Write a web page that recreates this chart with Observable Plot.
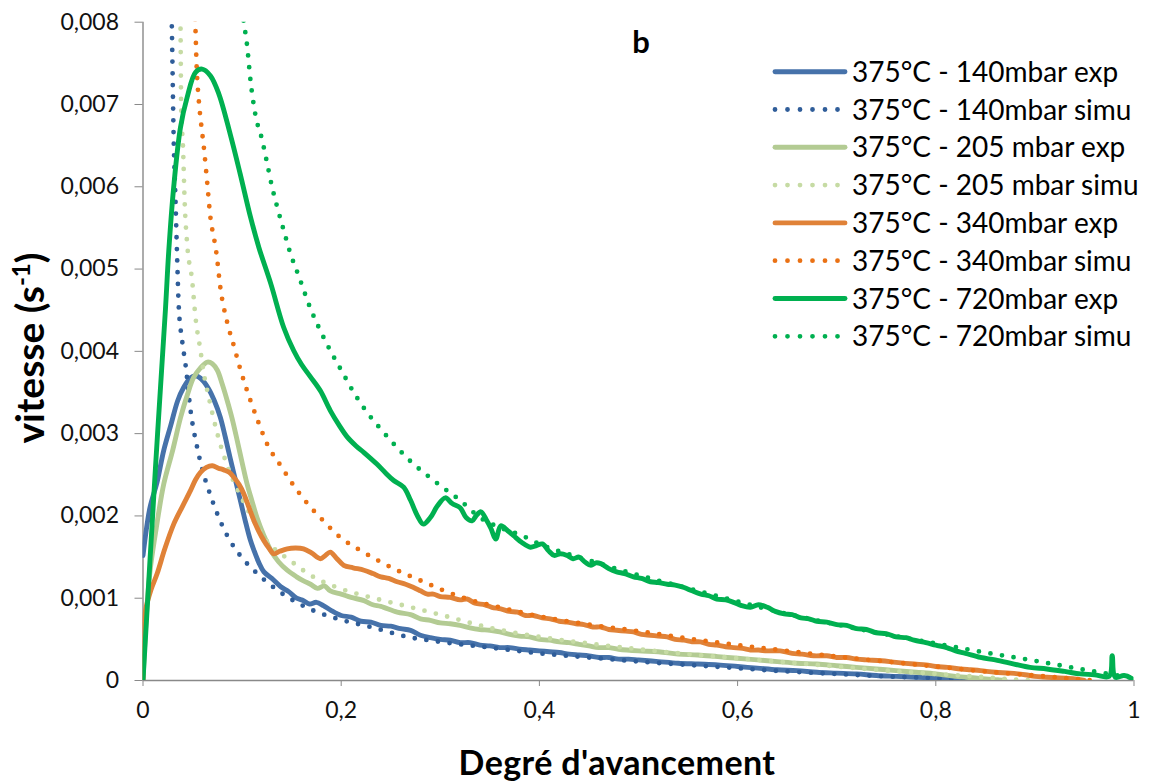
<!DOCTYPE html>
<html><head><meta charset="utf-8">
<script src="https://cdn.jsdelivr.net/npm/d3@7"></script>
<script src="https://cdn.jsdelivr.net/npm/@observablehq/plot@0.6"></script>
<style>body{margin:0;background:#fff;} svg{display:block;}</style>
</head><body><div id="chart"></div>
<script>
// ---- data (x = degré d'avancement, y = vitesse s^-1) ----
const seriesNames = ["375°C - 140mbar exp","375°C - 140mbar simu","375°C - 205 mbar exp","375°C - 205 mbar simu","375°C - 340mbar exp","375°C - 340mbar simu","375°C - 720mbar exp","375°C - 720mbar simu"];
const seriesColors = ["#4672aa","#2f5d99","#b3cb93","#c6dba4","#e08238","#ea7114","#00b050","#00b050"];
const seriesDotted = [false,true,false,true,false,true,false,true];

const exp140 = [[0,0.00152],[0.007,0.0021],[0.014,0.0024],[0.021,0.0028],[0.028,0.0031],[0.035,0.0034],[0.041,0.00356],[0.048,0.00368],[0.054,0.0037],[0.06,0.00365],[0.066,0.00355],[0.072,0.0034],[0.078,0.0032],[0.083,0.00296],[0.088,0.0027],[0.093,0.00245],[0.098,0.0022],[0.103,0.00195],[0.108,0.00172],[0.112,0.00158],[0.117,0.00143],[0.122,0.00132],[0.13,0.00124],[0.139,0.00114],[0.147,0.00108],[0.155,0.001],[0.162,0.00097],[0.168,0.00093],[0.175,0.00095],[0.182,0.00091],[0.19,0.00085],[0.2,0.00079],[0.21,0.00077],[0.22,0.00072],[0.23,0.00071],[0.24,0.00067],[0.25,0.00066],[0.26,0.00063],[0.27,0.00061],[0.28,0.00055],[0.29,0.00052],[0.3,0.0005],[0.31,0.00049],[0.32,0.00046],[0.33,0.00046],[0.34,0.00043],[0.35,0.00042],[0.36,0.0004],[0.37,0.0004],[0.38,0.00038],[0.39,0.00037],[0.4,0.00036],[0.41,0.00035],[0.42,0.00034],[0.43,0.00032],[0.44,0.00031],[0.45,0.0003],[0.46,0.00028],[0.47,0.00028],[0.48,0.00026],[0.49,0.00026],[0.5,0.00025],[0.52,0.00023],[0.54,0.00021],[0.56,0.0002],[0.58,0.00019],[0.6,0.00017],[0.62,0.00015],[0.64,0.00013],[0.66,0.00012],[0.68,0.0001],[0.7,0.00009],[0.72,0.00008],[0.74,0.00006],[0.76,0.00005],[0.78,0.00004],[0.8,0.00003],[0.82,0.00002],[0.84,0.00001],[0.86,0]];
const simu140 = [[0.027,0.0088],[0.029,0.008],[0.031,0.00656],[0.0328,0.00583],[0.0345,0.00512],[0.036,0.00456],[0.0395,0.00413],[0.043,0.00383],[0.048,0.00328],[0.0547,0.00283],[0.0597,0.00257],[0.0664,0.00231],[0.0748,0.00203],[0.085,0.00176],[0.098,0.00152],[0.1135,0.00132],[0.132,0.00113],[0.152,0.00097],[0.172,0.00085],[0.196,0.00075],[0.23,0.00065],[0.267,0.00053],[0.3,0.00047],[0.35,0.0004],[0.4,0.00033],[0.45,0.00028],[0.5,0.00023],[0.55,0.00019],[0.6,0.00015],[0.65,0.00011],[0.7,0.00008],[0.75,0.00005],[0.8,0.00003],[0.85,0.00001],[0.87,0]];
const exp205 = [[0,0],[0.004,0.0009],[0.0076,0.00138],[0.014,0.0019],[0.021,0.00239],[0.03,0.0028],[0.038,0.0032],[0.045,0.00348],[0.051,0.00368],[0.058,0.0038],[0.065,0.00387],[0.07,0.00385],[0.075,0.00377],[0.08,0.0036],[0.085,0.0034],[0.09,0.00318],[0.095,0.00292],[0.1,0.00265],[0.105,0.00239],[0.11,0.00218],[0.115,0.00198],[0.122,0.00176],[0.129,0.00158],[0.137,0.00144],[0.1455,0.00134],[0.155,0.00126],[0.162,0.00121],[0.169,0.00117],[0.176,0.00112],[0.183,0.00115],[0.189,0.00109],[0.2,0.00105],[0.21,0.00101],[0.223,0.00097],[0.232,0.00092],[0.24,0.0009],[0.2565,0.00083],[0.27,0.0008],[0.28,0.00075],[0.29,0.00073],[0.3,0.0007],[0.31,0.00069],[0.32,0.00067],[0.33,0.00064],[0.34,0.00062],[0.35,0.00061],[0.36,0.00059],[0.37,0.00056],[0.38,0.00054],[0.39,0.00053],[0.4,0.0005],[0.41,0.00049],[0.42,0.00047],[0.43,0.00046],[0.44,0.00044],[0.45,0.00042],[0.46,0.0004],[0.47,0.0004],[0.48,0.00038],[0.5,0.00036],[0.52,0.00035],[0.54,0.00032],[0.56,0.00031],[0.58,0.00029],[0.6,0.00027],[0.62,0.00025],[0.64,0.00023],[0.66,0.00021],[0.68,0.0002],[0.7,0.00018],[0.72,0.00016],[0.74,0.00014],[0.76,0.00012],[0.78,0.0001],[0.8,0.00008],[0.82,0.00005],[0.84,0.00003],[0.86,0.00001],[0.87,0]];
const simu205 = [[0.035,0.0092],[0.0378,0.008],[0.0385,0.007],[0.0405,0.00644],[0.042,0.00583],[0.0446,0.0053],[0.0496,0.00486],[0.053,0.00441],[0.058,0.00401],[0.0614,0.00373],[0.0664,0.00344],[0.075,0.003],[0.085,0.00261],[0.095,0.00233],[0.105,0.00209],[0.122,0.00174],[0.1505,0.00144],[0.169,0.00128],[0.196,0.00113],[0.23,0.00101],[0.267,0.0009],[0.3,0.0008],[0.35,0.00064],[0.4,0.00053],[0.45,0.00045],[0.5,0.00038],[0.55,0.00032],[0.6,0.00027],[0.65,0.00022],[0.7,0.00017],[0.75,0.00012],[0.8,0.00008],[0.85,0.00004],[0.88,0.00001],[0.9,0]];
const exp340 = [[0,0],[0.0012,0.0006],[0.0025,0.00085],[0.008,0.0011],[0.0143,0.0013],[0.022,0.0016],[0.031,0.0019],[0.04,0.00212],[0.048,0.00231],[0.053,0.00244],[0.058,0.00253],[0.064,0.00259],[0.07,0.00261],[0.076,0.00258],[0.0815,0.00256],[0.087,0.00253],[0.0916,0.00247],[0.097,0.00238],[0.1017,0.00227],[0.107,0.0021],[0.112,0.00194],[0.117,0.00181],[0.122,0.0017],[0.127,0.00161],[0.132,0.00154],[0.138,0.00157],[0.1455,0.0016],[0.154,0.00161],[0.162,0.0016],[0.17,0.00155],[0.179,0.00148],[0.184,0.00152],[0.189,0.00156],[0.195,0.00149],[0.2026,0.0014],[0.212,0.00137],[0.223,0.00134],[0.232,0.0013],[0.24,0.00126],[0.248,0.00124],[0.2565,0.0012],[0.265,0.00117],[0.273,0.00113],[0.28,0.00109],[0.287,0.00105],[0.293,0.00105],[0.3,0.00102],[0.31,0.00101],[0.32,0.00098],[0.327,0.00099],[0.335,0.00094],[0.345,0.00092],[0.352,0.00089],[0.361,0.00087],[0.37,0.00084],[0.378,0.00083],[0.386,0.00079],[0.394,0.00079],[0.403,0.00076],[0.411,0.00075],[0.42,0.00072],[0.428,0.00071],[0.437,0.00069],[0.445,0.00068],[0.454,0.00065],[0.462,0.00065],[0.47,0.00062],[0.478,0.00061],[0.487,0.0006],[0.495,0.00059],[0.503,0.00056],[0.512,0.00055],[0.52,0.00054],[0.529,0.00053],[0.537,0.0005],[0.546,0.00049],[0.554,0.00047],[0.5626,0.00047],[0.571,0.00044],[0.579,0.00043],[0.588,0.00041],[0.596,0.0004],[0.605,0.00039],[0.613,0.00037],[0.621,0.00037],[0.63,0.00036],[0.643,0.00036],[0.655,0.00033],[0.665,0.00032],[0.677,0.0003],[0.69,0.0003],[0.7,0.00028],[0.71,0.00028],[0.72,0.00026],[0.73,0.00025],[0.745,0.00024],[0.76,0.00022],[0.778,0.0002],[0.79,0.00019],[0.8,0.00017],[0.812,0.00016],[0.825,0.00014],[0.835,0.00013],[0.845,0.00012],[0.86,0.0001],[0.875,0.00009],[0.89,0.00007],[0.9,0.00005],[0.912,0.00004],[0.925,0.00003],[0.94,0.00002],[0.95,0]];
const simu340 = [[0.05,0.0086],[0.053,0.0079],[0.054,0.0075],[0.0563,0.00705],[0.0587,0.00676],[0.0614,0.00648],[0.0648,0.00605],[0.068,0.00563],[0.072,0.00535],[0.074,0.0052],[0.078,0.00478],[0.085,0.00435],[0.0916,0.00407],[0.098,0.00379],[0.1085,0.0034],[0.117,0.00312],[0.125,0.00288],[0.139,0.00261],[0.152,0.00237],[0.166,0.00215],[0.182,0.00194],[0.199,0.00174],[0.2195,0.00158],[0.24,0.00144],[0.26,0.00132],[0.283,0.0012],[0.3,0.00111],[0.33,0.00098],[0.36,0.00089],[0.4,0.00078],[0.45,0.00068],[0.5,0.0006],[0.55,0.00051],[0.6,0.00043],[0.65,0.00036],[0.7,0.00029],[0.75,0.00023],[0.8,0.00017],[0.85,0.00011],[0.9,0.00006],[0.95,0.00001],[0.96,0]];
const exp720 = [[0,0],[0.0126,0.00259],[0.0227,0.00452],[0.026,0.00522],[0.031,0.006],[0.0378,0.00672],[0.0446,0.00709],[0.053,0.00739],[0.0597,0.00743],[0.068,0.00735],[0.0765,0.00713],[0.088,0.00664],[0.098,0.00616],[0.1085,0.00563],[0.117,0.00526],[0.129,0.00482],[0.142,0.00429],[0.152,0.00401],[0.16,0.00384],[0.169,0.00369],[0.179,0.00352],[0.189,0.00328],[0.198,0.0031],[0.206,0.00296],[0.215,0.00285],[0.223,0.00277],[0.236,0.00263],[0.245,0.00252],[0.253,0.00243],[0.263,0.00235],[0.27,0.00219],[0.277,0.002],[0.283,0.0019],[0.29,0.00198],[0.297,0.00212],[0.305,0.00222],[0.312,0.00215],[0.32,0.0021],[0.326,0.00198],[0.332,0.00194],[0.336,0.002],[0.341,0.00205],[0.347,0.00194],[0.351,0.00185],[0.356,0.00172],[0.361,0.00188],[0.368,0.00182],[0.374,0.00176],[0.382,0.00168],[0.391,0.00162],[0.397,0.00164],[0.403,0.00166],[0.409,0.00158],[0.415,0.00152],[0.421,0.00154],[0.428,0.00152],[0.434,0.00148],[0.44,0.0015],[0.446,0.00144],[0.452,0.0014],[0.457,0.00143],[0.462,0.00142],[0.47,0.00136],[0.478,0.00132],[0.486,0.0013],[0.495,0.00126],[0.503,0.00124],[0.512,0.0012],[0.52,0.00119],[0.529,0.00117],[0.537,0.00116],[0.546,0.00113],[0.554,0.00109],[0.563,0.00105],[0.571,0.00103],[0.579,0.00099],[0.588,0.00098],[0.596,0.00095],[0.604,0.00091],[0.613,0.00089],[0.621,0.00092],[0.63,0.00089],[0.638,0.00084],[0.647,0.00081],[0.655,0.0008],[0.664,0.00076],[0.672,0.00075],[0.68,0.00072],[0.69,0.00071],[0.7,0.00068],[0.71,0.00067],[0.72,0.00063],[0.73,0.00062],[0.74,0.00058],[0.75,0.00057],[0.76,0.00053],[0.77,0.00052],[0.778,0.00049],[0.79,0.00046],[0.8,0.00043],[0.811,0.0004],[0.82,0.00036],[0.83,0.00033],[0.845,0.00028],[0.86,0.00025],[0.879,0.0002],[0.895,0.00016],[0.912,0.00014],[0.93,0.00011],[0.946,0.00008],[0.96,0.00007],[0.975,0.00005],[0.978,0.0003],[0.981,0.00004],[0.99,0.00006],[0.997,0.00003],[1,0]];
const simu720 = [[0.098,0.0083],[0.1017,0.008],[0.105,0.00772],[0.1085,0.00729],[0.1135,0.00687],[0.12,0.00658],[0.125,0.0063],[0.13,0.00601],[0.1355,0.00575],[0.142,0.00547],[0.149,0.00518],[0.157,0.00492],[0.169,0.00452],[0.179,0.00425],[0.189,0.00401],[0.201,0.00375],[0.2127,0.0035],[0.226,0.00326],[0.241,0.00304],[0.2565,0.00283],[0.273,0.00263],[0.283,0.00253],[0.302,0.00235],[0.32,0.00219],[0.34,0.00198],[0.36,0.00186],[0.3826,0.00176],[0.4,0.00166],[0.45,0.00146],[0.5,0.00128],[0.55,0.00112],[0.6,0.00096],[0.65,0.00081],[0.7,0.00068],[0.75,0.00056],[0.8,0.00045],[0.85,0.00034],[0.9,0.00024],[0.95,0.00013],[1,0.00003]];
const seriesData = [exp140, simu140, exp205, simu205, exp340, simu340, exp720, simu720];

const yTicks = [0,0.001,0.002,0.003,0.004,0.005,0.006,0.007,0.008];
const xTicks = [0,0.2,0.4,0.6,0.8,1];
const fr = d => d === 0 ? "0" : String(+d.toFixed(3)).replace(".", ",");

const FONT = "Lato, 'Open Sans', sans-serif";
const AXIS = "#898989";
const W_EXP = 4.9, W_DOT = 4.8;

const marks = [];
seriesData.forEach((data, i) => {
  const pts = data.map(([x, y]) => ({x, y}));
  marks.push(Plot.line(pts, {
    x: "x", y: "y", stroke: seriesColors[i], clip: true,
    curve: seriesDotted[i] ? "monotone-x" : "catmull-rom",
    strokeWidth: seriesDotted[i] ? W_DOT : W_EXP,
    strokeLinecap: "round", strokeLinejoin: "round",
    strokeDasharray: seriesDotted[i] ? "0 11.7" : null
  }));
});

const plot = Plot.plot({
  width: 1153, height: 782,
  marginLeft: 142.5, marginRight: 19.5, marginTop: 21.7, marginBottom: 102,
  style: {fontFamily: FONT, background: "#fff"},
  x: {domain: [0, 1]},
  y: {domain: [0, 0.008]},
  marks: [
    Plot.axisY(yTicks, {tickFormat: fr, tickSize: 8, tickPadding: 16, stroke: AXIS, fill: "#111", fontSize: 23, label: null}),
    Plot.axisX(xTicks, {tickFormat: fr, tickSize: 6, tickPadding: 15, stroke: AXIS, fill: "#111", fontSize: 23, label: null}),
    Plot.ruleX([0], {stroke: AXIS, strokeWidth: 1.4}),
    Plot.ruleY([0], {stroke: AXIS, strokeWidth: 1.4}),
    ...marks
  ]
});

const svg = d3.select(plot);
svg.selectAll("text").style("font-family", FONT);
// axis titles
const yt = svg.append("text").attr("transform", "translate(30,348) rotate(-90)")
  .attr("text-anchor", "middle").attr("dy", "0.35em")
  .style("font-family", FONT).style("font-size", "39px").style("font-weight", "bold").attr("fill", "#000");
yt.append("tspan").text("vitesse (s");
yt.append("tspan").text("-1").attr("font-size", "24px").attr("dy", "-14");
yt.append("tspan").text(")").attr("dy", "14");
svg.append("text").attr("x", 617).attr("y", 763).attr("text-anchor", "middle").attr("dy", "0.35em")
  .style("font-family", FONT).style("font-size", "34px").style("font-weight", "bold").style("letter-spacing", "0.4px").attr("fill", "#000")
  .text("Degré d'avancement");
svg.append("text").attr("x", 641).attr("y", 42).attr("text-anchor", "middle").attr("dy", "0.35em")
  .style("font-family", FONT).style("font-size", "31px").style("font-weight", "bold").attr("fill", "#000")
  .text("b");
// legend
const legY0 = 71.7, legDy = 37.8;
seriesNames.forEach((name, i) => {
  const y = legY0 + i * legDy;
  svg.append("line").attr("x1", 775).attr("x2", seriesDotted[i] ? 838 : 845).attr("y1", y).attr("y2", y)
    .attr("stroke", seriesColors[i]).attr("stroke-width", seriesDotted[i] ? W_DOT : W_EXP)
    .attr("stroke-linecap", "round")
    .attr("stroke-dasharray", seriesDotted[i] ? "0 12.5" : null);
  svg.append("text").attr("x", 852).attr("y", y).attr("dy", "0.36em").attr("text-anchor", "start")
    .style("font-family", FONT).style("font-size", "28px").attr("fill", "#000").text(name);
});
document.getElementById("chart").appendChild(plot);
</script>
</body></html>
